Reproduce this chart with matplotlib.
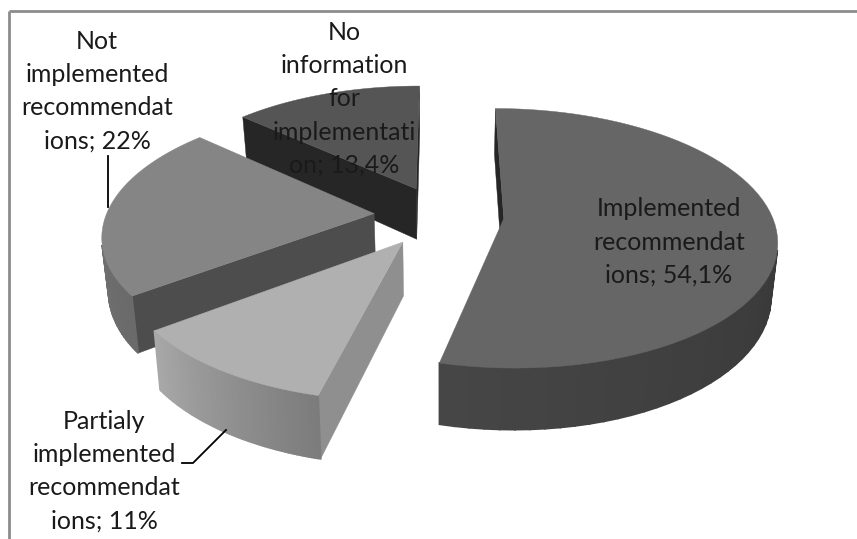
import numpy as np
from matplotlib import pyplot as plt

labels = ["Implemented\nrecommendat\nions; 54,1%",
          "Partialy\nimplemented\nrecommendat\nions; 11%",
          "Not\nimplemented\nrecommendat\nions; 22%",
          "No\ninformation\nfor\nimplementati\non; 13,4%"]
values = [54.1, 11, 22, 13.4]
top_colors = ["#666666", "#b0b0b0", "#858585", "#555555"]
cut_colors = ["#262626", "#8f8f8f", "#4d4d4d", "#262626"]
rim_start = ["#2a2a2a", "#7c7c7c", "#6a6a6a", "#333333"]
rim_end = ["#464646", "#a8a8a8", "#7a7a7a", "#333333"]
label_pos = [(669, 242), (104, 471), (97, 91), (344, 99)]
explode = [0.235, 0.25, 0.25, 0.235]
draw_order = [3, 2, 1, 0]

# perspective of the tilted pie, in pixels
VX, CY = 441, 215
RX, RY = 268, 125.7
DEPTH = 0.1515
THICK = 52
BOTTOM_SHRINK = 0.98


def project(u, v, low=False):
    w = 1 + DEPTH * v
    x = RX * u / w
    y = CY - RY * v / w
    if low:
        return VX + x * BOTTOM_SHRINK, y + THICK / w
    return VX + x, y


def hex_mix(a, b, t):
    a = np.array([int(a[i:i + 2], 16) for i in (1, 3, 5)]) / 255
    b = np.array([int(b[i:i + 2], 16) for i in (1, 3, 5)]) / 255
    return a + (b - a) * t


def area(pts):
    p = np.array(pts)
    return 0.5 * np.sum(p[:, 0] * np.roll(p[:, 1], -1) - np.roll(p[:, 0], -1) * p[:, 1])


def draw_slice(ax, start, end, i, z):
    mid = (start + end) / 2
    ox, oy = explode[i] * np.sin(mid), explode[i] * np.cos(mid)
    theta = np.linspace(start, end, 70)
    rim_u = ox + np.sin(theta)
    rim_v = oy + np.cos(theta)

    # cut faces, only those turned towards the viewer
    for (u, v), flip in (((rim_u[0], rim_v[0]), False), ((rim_u[-1], rim_v[-1]), True)):
        quad = [project(ox, oy), project(u, v), project(u, v, True), project(ox, oy, True)]
        if (area(quad) > 0) == flip:
            ax.fill(*zip(*quad), color=cut_colors[i], lw=0.3, zorder=z * 3 + 1)

    # outer wall in thin strips so the shade can run along the rim
    for j in range(len(theta) - 1):
        quad = [project(rim_u[j], rim_v[j]), project(rim_u[j + 1], rim_v[j + 1]),
                project(rim_u[j + 1], rim_v[j + 1], True), project(rim_u[j], rim_v[j], True)]
        if area(quad) < 0:
            t = j / (len(theta) - 2)
            ax.fill(*zip(*quad), color=hex_mix(rim_start[i], rim_end[i], t), lw=1.2, zorder=z * 3 + 2)

    outline = [project(ox, oy)] + [project(u, v) for u, v in zip(rim_u, rim_v)]
    ax.fill(*zip(*outline), color=top_colors[i], lw=0.3, zorder=z * 3 + 3)


fig = plt.figure(figsize=(8.57, 5.39), dpi=100)
ax = fig.add_axes([0, 0, 1, 1])
ax.set_xlim(0, 857)
ax.set_ylim(539, 0)
ax.axis("off")

total = sum(values)
edges = np.concatenate([[0], np.cumsum(values)]) / total * 2 * np.pi

# back slices first, the later ones overlap them
for z, i in enumerate(draw_order):
    draw_slice(ax, edges[i], edges[i + 1], i, z)

# chart frame
ax.plot([9, 9], [539, 11], color="#8c8c8c", lw=2, zorder=20, solid_capstyle="butt")
ax.plot([9, 857], [11, 11], color="#8c8c8c", lw=2, zorder=20, solid_capstyle="butt")

# leader lines
ax.plot([108, 108], [156, 207], color="black", lw=1.3, zorder=21)
ax.plot([182, 193, 226], [463, 463, 430], color="black", lw=1.3, zorder=21)

for text, pos in zip(labels, label_pos):
    ax.text(pos[0], pos[1], text, ha="center", va="center", family="Lato", fontsize=18,
            color="#1a1a1a", linespacing=1.54, zorder=22)

fig.savefig("out.png", dpi=100)
